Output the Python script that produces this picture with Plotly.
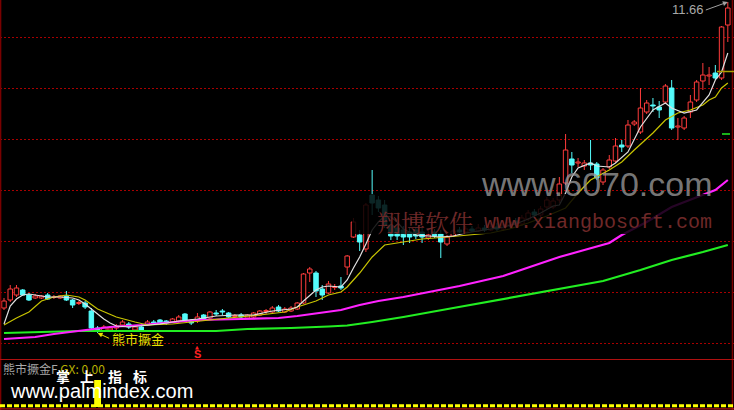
import plotly.graph_objects as go

# ---------------- data (prices) ----------------
opens = [5.54, 5.70, 5.80, 5.90, 5.80, 5.74, 5.74, 5.80, 5.75, 5.74,
         5.78, 5.70, 5.63, 5.64, 5.48, 5.14, 5.08, 5.10, 5.14, 5.20,
         5.22, 5.10, 5.16, 5.20, 5.26, 5.30, 5.28, 5.26, 5.28, 5.42,
         5.28, 5.28, 5.40, 5.34, 5.44, 5.48, 5.44, 5.37, 5.40, 5.34,
         5.36, 5.40, 5.47, 5.46, 5.56, 5.46, 5.48, 5.52, 5.64, 6.24,
         6.24, 5.92, 5.84, 5.95, 5.98, 6.36, 6.96, 7.00, 6.72, 7.80,
         7.70, 7.60, 7.20, 7.14, 7.10, 7.06, 7.10, 7.06, 6.94, 7.06,
         7.02, 6.82, 6.98, 7.10, 7.06, 7.12, 7.08, 7.14, 7.10, 7.16,
         7.12, 7.20, 7.28, 7.22, 7.32, 7.46, 7.40, 7.56, 7.56, 7.70,
         8.04, 8.52, 8.44, 8.38, 8.44, 8.42, 8.06, 8.36, 8.48, 8.80,
         8.78, 9.22, 9.06, 9.46, 9.60, 9.56, 9.66, 9.94, 9.16, 9.14,
         9.46, 9.70, 10.08, 10.18, 10.24, 10.14, 11.20]
highs = [5.74, 6.00, 6.00, 5.92, 5.84, 5.82, 5.80, 5.84, 5.80, 5.80,
         5.88, 5.72, 5.68, 5.68, 5.54, 5.18, 5.20, 5.18, 5.22, 5.30,
         5.26, 5.20, 5.20, 5.30, 5.30, 5.32, 5.30, 5.34, 5.40, 5.44,
         5.32, 5.44, 5.42, 5.48, 5.50, 5.52, 5.46, 5.42, 5.44, 5.42,
         5.46, 5.50, 5.52, 5.58, 5.60, 5.56, 5.58, 5.66, 6.24, 6.36,
         6.28, 6.00, 6.08, 6.02, 6.16, 6.60, 7.34, 7.10, 7.64, 8.30,
         7.78, 7.70, 7.30, 7.22, 7.18, 7.14, 7.16, 7.14, 7.10, 7.12,
         7.10, 7.00, 7.12, 7.16, 7.18, 7.18, 7.22, 7.20, 7.24, 7.24,
         7.28, 7.32, 7.34, 7.40, 7.50, 7.52, 7.58, 7.76, 7.74, 8.16,
         9.02, 8.66, 8.54, 8.50, 8.90, 8.46, 8.34, 8.60, 8.94, 8.90,
         9.30, 9.30, 9.94, 9.70, 9.74, 9.68, 10.02, 10.10, 9.34, 9.38,
         9.80, 10.10, 10.44, 10.36, 10.40, 11.18, 11.66]
lows = [5.50, 5.66, 5.76, 5.78, 5.68, 5.72, 5.72, 5.70, 5.72, 5.72,
        5.68, 5.54, 5.60, 5.52, 5.10, 5.04, 5.06, 5.06, 5.10, 5.16,
        5.12, 5.08, 5.08, 5.18, 5.22, 5.22, 5.20, 5.24, 5.24, 5.26,
        5.20, 5.24, 5.28, 5.32, 5.38, 5.40, 5.34, 5.34, 5.34, 5.32,
        5.34, 5.38, 5.42, 5.44, 5.46, 5.44, 5.46, 5.50, 5.62, 6.06,
        5.76, 5.70, 5.82, 5.90, 5.90, 6.20, 6.94, 6.68, 6.66, 7.40,
        7.46, 7.14, 6.90, 6.90, 6.80, 6.84, 6.92, 6.84, 6.90, 6.94,
        6.54, 6.78, 6.96, 7.04, 7.04, 7.06, 7.06, 7.06, 7.08, 7.08,
        7.08, 7.16, 7.18, 7.18, 7.28, 7.36, 7.36, 7.52, 7.52, 7.64,
        8.00, 8.24, 8.36, 8.30, 8.30, 8.10, 8.00, 8.32, 8.44, 8.66,
        8.74, 9.18, 9.02, 9.42, 9.46, 9.34, 9.62, 9.10, 8.90, 9.10,
        9.34, 9.66, 9.90, 10.00, 10.10, 10.10, 10.86]
closes = [5.68, 5.92, 5.94, 5.80, 5.70, 5.78, 5.78, 5.72, 5.76, 5.78,
          5.70, 5.60, 5.65, 5.56, 5.14, 5.08, 5.16, 5.14, 5.18, 5.26,
          5.16, 5.16, 5.10, 5.26, 5.24, 5.24, 5.24, 5.32, 5.36, 5.28,
          5.24, 5.36, 5.30, 5.46, 5.42, 5.46, 5.36, 5.39, 5.36, 5.40,
          5.44, 5.48, 5.49, 5.54, 5.48, 5.52, 5.54, 5.64, 6.22, 6.32,
          5.88, 5.80, 6.02, 5.97, 5.94, 6.58, 7.26, 6.86, 7.60, 7.64,
          7.54, 7.20, 6.98, 6.98, 6.96, 6.96, 6.98, 6.96, 7.00, 6.98,
          6.86, 6.96, 7.08, 7.06, 7.12, 7.08, 7.14, 7.10, 7.16, 7.12,
          7.20, 7.26, 7.22, 7.34, 7.44, 7.40, 7.52, 7.70, 7.68, 8.02,
          8.70, 8.40, 8.46, 8.44, 8.40, 8.14, 8.30, 8.50, 8.78, 8.76,
          9.20, 9.26, 9.54, 9.64, 9.58, 9.50, 9.98, 9.14, 9.18, 9.34,
          9.66, 10.06, 10.20, 10.20, 10.14, 11.16, 11.54]

ma5_idx = [0, 1, 2, 3, 4, 5, 7, 9, 11, 12, 13, 14, 15, 16, 17, 18, 20, 22, 25, 28,
           31, 34, 37, 40, 43, 46, 47, 48, 49, 50, 51, 52, 54, 55, 56, 57, 58, 59, 60, 61,
           62, 63, 64, 66, 68, 70, 72, 74, 76, 78, 80, 82, 84, 86, 88, 89, 90, 91, 92, 94,
           95, 97, 98, 100, 101, 102, 104, 106, 107, 109, 111, 113, 114, 115, 116]
ma5_val = [5.22, 5.58, 5.72, 5.80, 5.82, 5.80, 5.76, 5.76, 5.74, 5.70, 5.62, 5.52, 5.42, 5.32, 5.24, 5.18, 5.16, 5.18, 5.22, 5.28,
           5.32, 5.38, 5.40, 5.40, 5.48, 5.52, 5.56, 5.68, 5.80, 5.90, 5.96, 5.98, 5.96, 6.10, 6.34, 6.56, 6.82, 7.10, 7.26, 7.38,
           7.36, 7.26, 7.12, 7.00, 6.98, 6.96, 6.98, 7.04, 7.08, 7.12, 7.16, 7.22, 7.32, 7.44, 7.58, 7.60, 7.84, 8.16, 8.34, 8.44,
           8.38, 8.36, 8.44, 8.66, 8.90, 9.16, 9.50, 9.64, 9.54, 9.44, 9.50, 9.80, 10.10, 10.26, 10.64]

ma10_idx = [0, 2, 4, 6, 8, 10, 12, 13, 15, 18, 21, 23, 27, 31, 36, 41, 45, 47, 50, 52,
            54, 55, 57, 59, 61, 64, 67, 71, 75, 78, 81, 84, 87, 90, 92, 94, 97, 99, 101, 104,
            106, 108, 110, 112, 113, 114, 115, 116]
ma10_val = [5.20, 5.34, 5.46, 5.68, 5.76, 5.80, 5.76, 5.70, 5.52, 5.36, 5.26, 5.20, 5.22, 5.28, 5.34, 5.40, 5.46, 5.56, 5.68, 5.80,
            5.86, 5.96, 6.24, 6.56, 6.80, 6.86, 6.92, 6.96, 7.00, 7.04, 7.12, 7.24, 7.38, 7.54, 7.84, 8.10, 8.30, 8.46, 8.70, 9.04,
            9.30, 9.44, 9.50, 9.60, 9.70, 9.76, 9.94, 10.04]

ma30_idx = [0, 3, 5, 8, 12, 14, 17, 22, 27, 31, 38, 44, 47, 51, 54, 57, 60, 64, 68, 73,
            80, 86, 89, 93, 97, 99, 103, 107, 110, 114, 116]
ma30_val = [4.92, 4.94, 4.96, 5.02, 5.08, 5.12, 5.16, 5.20, 5.26, 5.30, 5.32, 5.34, 5.38, 5.44, 5.50, 5.60, 5.68, 5.76, 5.86, 5.98,
            6.18, 6.44, 6.56, 6.70, 6.84, 7.00, 7.26, 7.56, 7.70, 7.90, 8.10]

ma60_idx = [0, 6, 12, 34, 39, 46, 49, 52, 55, 57, 59, 62, 64, 72, 80, 88, 96, 102, 107, 112, 116]
ma60_val = [5.04, 5.06, 5.08, 5.08, 5.12, 5.14, 5.15, 5.17, 5.19, 5.22, 5.26, 5.32, 5.36, 5.54, 5.72, 5.90, 6.08, 6.30, 6.50, 6.66, 6.80]

grid_levels = [10.96, 9.94, 8.92, 7.90, 6.88, 5.86, 4.84]
signal_idx = [15]
signal_val = [1.0]
last_gx = "0.00"
high_label = "11.66"

RED = "#ff3c3c"
CYAN = "#54fcfc"

n = len(opens)
idx = list(range(n))
up = [i for i in idx if closes[i] >= opens[i]]
dn = [i for i in idx if closes[i] < opens[i]]


def wicks(ids):
    xs, ys = [], []
    for i in ids:
        top = max(opens[i], closes[i])
        bot = min(opens[i], closes[i])
        xs += [i, i, None, i, i, None]
        ys += [highs[i], top, None, bot, lows[i], None]
    return xs, ys


fig = go.Figure()

# candle bodies
fig.add_trace(go.Bar(x=up, base=[opens[i] for i in up], y=[closes[i] - opens[i] for i in up],
                     width=0.72, marker=dict(color="black", line=dict(color=RED, width=1))))
fig.add_trace(go.Bar(x=dn, base=[closes[i] for i in dn], y=[opens[i] - closes[i] for i in dn],
                     width=0.72, marker=dict(color=CYAN, line=dict(color=CYAN, width=1))))
wx, wy = wicks(up)
fig.add_trace(go.Scatter(x=wx, y=wy, mode="lines", line=dict(color=RED, width=1)))
wx, wy = wicks(dn)
fig.add_trace(go.Scatter(x=wx, y=wy, mode="lines", line=dict(color=CYAN, width=1)))

# moving averages
fig.add_trace(go.Scatter(x=ma60_idx, y=ma60_val, mode="lines", line=dict(color="#22ee22", width=2.2)))
fig.add_trace(go.Scatter(x=ma30_idx, y=ma30_val, mode="lines", line=dict(color="#ff22ff", width=2.2)))
fig.add_trace(go.Scatter(x=ma10_idx, y=ma10_val, mode="lines", line=dict(color="#c8c400", width=1.2)))
fig.add_trace(go.Scatter(x=ma5_idx, y=ma5_val, mode="lines", line=dict(color="#e0e0e0", width=1.2)))

# lower indicator panel
fig.add_trace(go.Bar(x=signal_idx, y=signal_val, width=1.1, marker=dict(color="#ffff00", line=dict(width=0)),
                     yaxis="y2"))

X0, X1 = -0.641, 116.99
fig.update_layout(
    width=734, height=410, margin=dict(l=0, r=0, t=0, b=0),
    paper_bgcolor="black", plot_bgcolor="black", showlegend=False,
    barmode="overlay", hovermode=False,
    xaxis=dict(range=[X0, X1], showgrid=False, zeroline=False, showticklabels=False, ticks=""),
    yaxis=dict(domain=[52 / 410, 1], range=[4.54, 11.70], tickvals=grid_levels,
               showgrid=True, gridcolor="#a80000", griddash="2px,2px", gridwidth=1,
               showticklabels=False, ticks="", zeroline=False),
    yaxis2=dict(domain=[0, 50 / 410], range=[-0.111, 1.741], showgrid=False, zeroline=False,
                showticklabels=False, ticks=""),
)

shapes = []
# frame lines
shapes.append(dict(type="line", xref="paper", yref="paper", x0=0.0008, x1=0.0008, y0=0, y1=1,
                   line=dict(color="#7a0000", width=1.5)))
shapes.append(dict(type="line", xref="paper", yref="paper", x0=732.5 / 734, x1=732.5 / 734, y0=0, y1=1,
                   line=dict(color="#7a0000", width=1.5)))
shapes.append(dict(type="line", xref="paper", yref="paper", x0=0, x1=1, y0=1 - 359.5 / 410, y1=1 - 359.5 / 410,
                   line=dict(color="#b01010", width=1.2)))
shapes.append(dict(type="line", xref="paper", yref="paper", x0=0, x1=1, y0=1.2 / 410, y1=1.2 / 410,
                   line=dict(color="#b01010", width=1.2)))
# GX baseline (dotted yellow)
shapes.append(dict(type="line", xref="paper", yref="y2", x0=0, x1=1, y0=0.05, y1=0.05,
                   line=dict(color="#ffff00", width=3, dash="5px,2px")))
# right-edge markers
shapes.append(dict(type="line", xref="paper", yref="paper", x0=717 / 734, x1=1, y0=1 - 71.5 / 410, y1=1 - 71.5 / 410,
                   line=dict(color="#a8a000", width=1.5)))
shapes.append(dict(type="line", xref="paper", yref="paper", x0=722 / 734, x1=730 / 734, y0=1 - 134 / 410, y1=1 - 134 / 410,
                   line=dict(color="#22ee22", width=1.5)))
# watermark backing
shapes.append(dict(type="rect", xref="paper", yref="paper", x0=352 / 734, x1=716 / 734,
                   y0=1 - 234 / 410, y1=1 - 194 / 410, fillcolor="black", opacity=0.85,
                   line=dict(width=0), layer="above"))
fig.update_layout(shapes=shapes)


def ptxt(text, px, py, size, color, family="Noto Sans CJK SC", xanchor="center"):
    return dict(x=px / 734, y=1 - py / 410, xref="paper", yref="paper", text=text, showarrow=False,
                xanchor=xanchor, yanchor="middle", font=dict(family=family, size=size, color=color))


ann = []
# high label with arrow
ann.append(dict(x=idx[-1], y=max(highs), xref="x", yref="y", text=high_label, showarrow=True,
                ax=-22, ay=8, xanchor="right", yanchor="middle", arrowhead=2, arrowsize=1, arrowwidth=1,
                arrowcolor="#a0a0a0", font=dict(family="Liberation Sans, Arial", size=13, color="#a8a8a8")))
# bear-market signal label
ann.append(dict(x=signal_idx[0], y=lows[signal_idx[0]], xref="x", yref="y", text="", showarrow=True,
                ax=13, ay=6, arrowhead=2, arrowsize=1, arrowwidth=1, arrowcolor="#e8e000"))
ann.append(ptxt("熊市撅金", 110, 338, 13, "#e8e000", xanchor="left"))
# sell marker
ann.append(dict(x=31, y=1 - 354 / 410, xref="x", yref="paper", text="<b>S</b>", showarrow=False,
                xanchor="center", yanchor="middle",
                font=dict(family="Liberation Sans, Arial", size=11, color="#ff2020")))
ann.append(dict(x=31, y=1 - 347 / 410, xref="x", yref="paper", text="▲", showarrow=False,
                xanchor="center", yanchor="middle",
                font=dict(family="DejaVu Sans", size=5, color="#ff2020")))
# lower panel title
ann.append(ptxt("熊市撅金F <span style='color:#b8b000'>GX: " + last_gx + "</span>", 1, 368, 12, "#a8a8a8",
                xanchor="left"))
# palmindex watermark
for ch, px in zip(["掌", "上", "指", "标"], [63, 87, 115, 140]):
    ann.append(ptxt("<b>" + ch + "</b>", px, 376, 14, "white"))
ann.append(ptxt("www.palmindex.com", 101, 391, 20, "white", family="Liberation Sans, Arial"))
# other watermarks
ann.append(ptxt("www.6070.com", 597, 184, 34, "rgba(150,150,150,0.8)", family="Liberation Sans, Arial"))
ann.append(ptxt("翔博软件", 375, 221, 24, "#6e2828", family="Noto Serif CJK SC, Noto Sans CJK SC", xanchor="left"))
ann.append(ptxt("www.xiangbosoft.com", 482, 222, 20, "#6e2828", family="Liberation Mono", xanchor="left"))
fig.update_layout(annotations=ann)

fig.write_html("out.html", config={"displayModeBar": False},
               post_script="document.body.style.margin='0';document.body.style.overflow='hidden';")
